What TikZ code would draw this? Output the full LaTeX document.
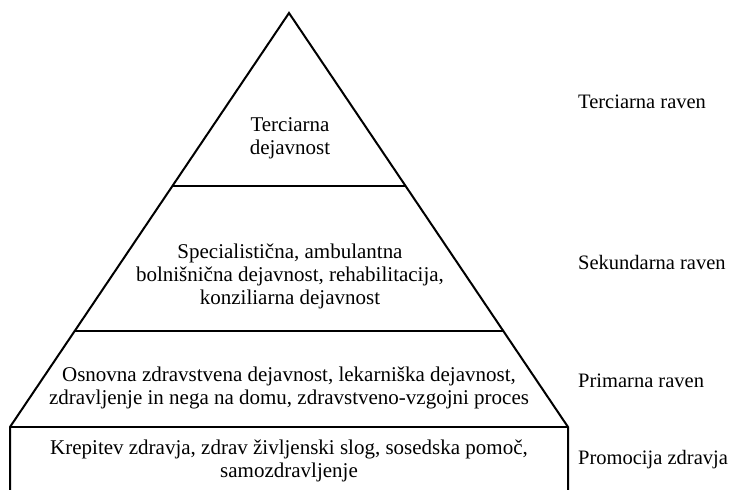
\documentclass[tikz,border=0pt]{standalone}
\usepackage{fontspec}
\setmainfont{Liberation Serif}
\begin{document}
\begin{tikzpicture}[x=1pt,y=-1pt,
  lvl/.style={align=center,font=\fontsize{21}{23}\selectfont,inner sep=0pt},
  lab/.style={anchor=west,font=\fontsize{20.5}{22.8}\selectfont,inner sep=0pt},
  edge/.style={line width=2pt,line join=miter}]
\useasboundingbox (0,0) rectangle (731,490);
\coordinate (apex) at (289,13);
\coordinate (bl) at (10,427);
\coordinate (br) at (568,427);
\coordinate (bl2) at (10,490);
\coordinate (br2) at (568,490);
\coordinate (l1) at (172,186);
\coordinate (r1) at (406,186);
\coordinate (l2) at (75,331);
\coordinate (r2) at (503,331);
\draw[edge] (bl2) -- (bl) -- (apex) -- (br) -- (br2);
\draw[edge] (bl) -- (br);
\draw[edge] (l1) -- (r1);
\draw[edge] (l2) -- (r2);
\node[lvl] (t) at (290,138) {Terciarna\\dejavnost};
\node[lvl] (s) at (290,276) {Specialistična, ambulantna\\bolnišnična dejavnost, rehabilitacija,\\konziliarna dejavnost};
\node[lvl] (p) at (289,388) {Osnovna zdravstvena dejavnost, lekarniška dejavnost,\\zdravljenje in nega na domu, zdravstveno-vzgojni proces};
\node[lvl] (k) at (289,461) {Krepitev zdravja, zdrav življenski slog, sosedska pomoč,\\samozdravljenje};
\node[lab] (tl) at (578,102) {Terciarna raven};
\node[lab] (sl) at (578,262) {Sekundarna raven};
\node[lab] (pl) at (578,381) {Primarna raven};
\node[lab] (kl) at (578,460) {Promocija zdravja};
\end{tikzpicture}
\end{document}
